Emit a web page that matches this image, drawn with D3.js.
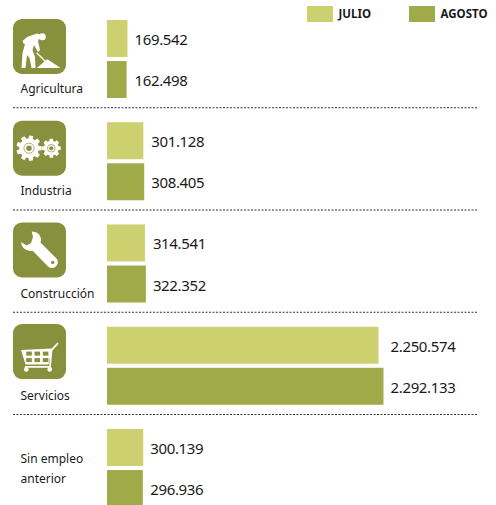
<!DOCTYPE html>
<html>
<head>
<meta charset="utf-8">
<style>
  html, body { margin: 0; padding: 0; background: #fff; }
  svg { display: block; }
  text { font-family: "Noto Sans", sans-serif; fill: #1a1a1a; }
</style>
</head>
<body>
<svg id="chart" width="496" height="505"></svg>
<script src="https://cdn.jsdelivr.net/npm/d3@7"></script>
<script>
const categories = ['Agricultura', 'Industria', 'Construcción', 'Servicios', 'Sin empleo anterior'];
const categoryLines = [['Agricultura'], ['Industria'], ['Construcción'], ['Servicios'], ['Sin empleo', 'anterior']];
const months = ['JULIO', 'AGOSTO'];
const julio = [169542, 301128, 314541, 2250574, 300139];
const agosto = [162498, 308405, 322352, 2292133, 296936];

const colors = { JULIO: '#cdd06e', AGOSTO: '#a0aa49' };
const iconColor = '#87903c';

const svg = d3.select('#chart');

// Row scale: one band per category, two bars inside each
const y = d3.scaleBand().domain(categories).range([20, 20 + 102.25 * 5]);
const yMonth = d3.scaleBand().domain(months).range([0, 78]).paddingInner(0.1);
const x = d3.scaleLinear().domain([0, d3.max(agosto)]).range([0, 276.5]);
const x0 = 107;

const fmt = d3.formatLocale({ decimal: ',', thousands: '.', grouping: [3], currency: ['', ''] }).format(',d');

/* ---------- legend ---------- */
const legend = svg.append('g');
const legendX = d3.scalePoint().domain(months).range([307, 409]);
legend.selectAll('rect')
  .data(months)
  .join('rect')
    .attr('x', d => legendX(d))
    .attr('y', 6)
    .attr('width', 26)
    .attr('height', 16)
    .attr('fill', d => colors[d]);
legend.selectAll('text')
  .data(months)
  .join('text')
    .attr('x', d => legendX(d) + 31.5)
    .attr('y', 18)
    .style('font-size', '11.5px')
    .style('font-weight', '700')
    .text(d => d);

/* ---------- rows ---------- */
const rows = svg.selectAll('g.row')
  .data(categories)
  .join('g')
    .attr('class', 'row')
    .attr('transform', d => `translate(0,${y(d)})`);

rows.each(function(cat, i) {
  const g = d3.select(this);
  const vals = [julio[i], agosto[i]];

  g.selectAll('rect.bar')
    .data(vals)
    .join('rect')
      .attr('class', 'bar')
      .attr('x', x0)
      .attr('y', (d, j) => yMonth(months[j]))
      .attr('width', d => x(d))
      .attr('height', yMonth.bandwidth())
      .attr('fill', (d, j) => colors[months[j]]);

  // both labels line up just past the longer bar
  const labelX = x0 + x(d3.max(vals)) + 7;
  g.selectAll('text.value')
    .data(vals)
    .join('text')
      .attr('class', 'value')
      .attr('x', labelX)
      .attr('y', (d, j) => yMonth(months[j]) + yMonth.bandwidth() / 2 + 6.5)
      .style('font-size', '15px')
      .style('letter-spacing', '-0.35px')
      .text(d => fmt(d));

  const lines = categoryLines[i];
  g.selectAll('text.cat')
    .data(lines)
    .join('text')
      .attr('class', 'cat')
      .attr('x', 20.5)
      .attr('y', (d, j) => lines.length > 1 ? 34 + j * 19.5 : 73)
      .style('font-size', '12px')
      .text(d => d);
});

/* ---------- separators ---------- */
svg.selectAll('line.sep')
  .data(categories.slice(1))
  .join('line')
    .attr('class', 'sep')
    .attr('x1', 13)
    .attr('x2', 478)
    .attr('y1', d => y(d) - 14.5)
    .attr('y2', d => y(d) - 14.5)
    .attr('stroke', '#333')
    .attr('stroke-width', 1)
    .attr('stroke-dasharray', '2,1.5');

/* ---------- icons ---------- */
function gearPath(cx, cy, rOut, rIn, teeth) {
  const pts = [];
  const step = Math.PI * 2 / teeth;
  for (let k = 0; k < teeth; k++) {
    const a = k * step;
    [[-0.32, rIn], [-0.2, rOut], [0.2, rOut], [0.32, rIn]].forEach(p => {
      const t = a + p[0] * step * 1.1;
      pts.push([cx + p[1] * Math.cos(t), cy + p[1] * Math.sin(t)]);
    });
  }
  return d3.line()(pts) + 'Z';
}

function worker(g) {
  g.append('circle').attr('cx', 29.3).attr('cy', 17.7).attr('r', 3.5).attr('fill', '#fff');
  g.append('path').attr('fill', '#fff')
    .attr('d', 'M9.5 22 L14 18 L24 14.5 Q27 14.5 27.5 17.5 L25 22 L27 31 L25 33 L21 26 L19.5 31 L22 38 L22.5 49 L18.5 49 L16.5 39 L14 36 L12.5 49 L8.5 49 L9.5 34 L12 25 L10.5 24.5 Z');
  g.append('path').attr('fill', 'none').attr('stroke', '#fff').attr('stroke-width', 1.4)
    .attr('d', 'M23.7 33.7 L34.3 44.3');
  g.append('path').attr('fill', '#fff').attr('d', 'M23.7 49 L34.3 40.3 L47.7 49 Z');
}

function gears(g) {
  [[16, 27.5, 12.8, 9.8, 9], [38.3, 27.5, 9.6, 7.4, 8]].forEach(c => {
    g.append('path').attr('fill', '#fff').attr('d', gearPath(c[0], c[1], c[2], c[3], c[4]));
    g.append('circle').attr('cx', c[0]).attr('cy', c[1]).attr('r', c[3] * 0.52)
      .attr('fill', 'none').attr('stroke', iconColor).attr('stroke-width', 0.7);
    g.append('circle').attr('cx', c[0]).attr('cy', c[1]).attr('r', c[3] * 0.28).attr('fill', iconColor);
  });
}

function wrench(g) {
  g.append('path').attr('fill', '#fff')
    .attr('d', 'M18.7 9 Q26 9 27.7 15 Q28.5 18 27.5 20 L43 35.5 A5 5 0 0 1 35 44 L20 28.5 Q14 29 10.5 25.5 Q8 23 8 19.5 L13.5 23 L18 20.5 L20 14.5 Z');
  g.append('circle').attr('cx', 39.7).attr('cy', 40).attr('r', 1.7).attr('fill', iconColor);
}

function cart(g) {
  g.append('path').attr('fill', '#fff').attr('d', 'M8 26 L38.5 24.5 L35.5 40.5 L12.5 40.5 Z');
  d3.cross([0, 1, 2], [0, 1]).forEach(c => {
    g.append('rect')
      .attr('x', 13.2 + c[0] * 8.3)
      .attr('y', 27.5 + c[1] * 6.5)
      .attr('width', 5.6)
      .attr('height', 4)
      .attr('fill', iconColor);
  });
  g.append('path').attr('fill', 'none').attr('stroke', '#fff').attr('stroke-width', 1.8)
    .attr('d', 'M12 42.7 L37 42.7 L38.5 26 L45 19');
  g.append('circle').attr('cx', 13.3).attr('cy', 45.3).attr('r', 2.3).attr('fill', '#fff');
  g.append('circle').attr('cx', 36.7).attr('cy', 45.3).attr('r', 2.3).attr('fill', '#fff');
}

// icon boxes sit on a slightly tighter pitch than the bars
const iconY = d3.scaleBand().domain(categories).range([19, 19 + 101.7 * 5]);

[worker, gears, wrench, cart].forEach((draw, i) => {
  const g = svg.append('g')
    .attr('transform', `translate(13,${iconY(categories[i])})`);
  g.append('rect')
    .attr('width', 53)
    .attr('height', 55)
    .attr('rx', 9)
    .attr('fill', iconColor);
  draw(g);
});
</script>
</body>
</html>
